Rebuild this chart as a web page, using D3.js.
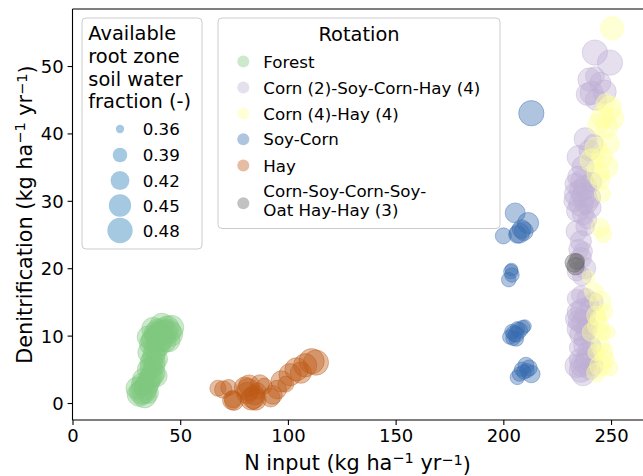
<!DOCTYPE html>
<html>
<head>
<meta charset="utf-8">
<script src="https://cdn.jsdelivr.net/npm/d3@7"></script>
<style>
  html, body { margin: 0; padding: 0; background: #fff; }
  svg { display: block; font-family: "DejaVu Sans", sans-serif; }
</style>
</head>
<body>
<svg id="chart" width="643" height="476"></svg>
<script>
// Rotation categories and their colours (Accent palette)
const rotations = [
  "Forest",
  "Corn (2)-Soy-Corn-Hay (4)",
  "Corn (4)-Hay (4)",
  "Soy-Corn",
  "Hay",
  "Corn-Soy-Corn-Soy-Oat Hay-Hay (3)"
];
const rotationColors = ["#7fc97f", "#beaed4", "#ffff99", "#386cb0", "#bf5b17", "#666666"];

// Each row: [N input, denitrification, available root zone soil water fraction]
const forest = [
  [31, 1.3, 0.47], [33, 1.8, 0.48], [34.5, 2.8, 0.46], [36, 3.8, 0.45], [37.5, 4.5, 0.46],
  [38, 5.5, 0.44], [37, 6.5, 0.44], [38.5, 7.8, 0.45], [36.5, 8.8, 0.46], [38, 9.5, 0.47],
  [40, 10.2, 0.47], [42, 10.8, 0.47], [44, 11.2, 0.46], [45.5, 10.2, 0.47], [43, 9.2, 0.45],
  [40.5, 8.5, 0.44], [39.5, 10.8, 0.45],
  [33.5, 1.0, 0.46], [30, 2.2, 0.45], [35, 1.5, 0.44], [33, 3.5, 0.45], [35, 5, 0.44],
  [39, 4, 0.44], [36.5, 6, 0.45], [39.5, 6.5, 0.43], [35.5, 7.5, 0.45], [39.5, 8.8, 0.46],
  [41.5, 11.6, 0.46], [37.5, 11, 0.46], [46, 11.2, 0.47], [44.5, 9.3, 0.46], [42, 9.5, 0.45],
  [35.2, 9.8, 0.45],
  [32, 1.6, 0.47], [34, 2.2, 0.46], [32.5, 2.8, 0.45], [35.5, 3.2, 0.45], [37, 4.0, 0.45],
  [36.5, 5.2, 0.45], [38.2, 6.2, 0.44], [37.8, 7.2, 0.45], [37.2, 9.2, 0.46], [39, 9.8, 0.46],
  [41, 10.4, 0.47], [43, 10.5, 0.47], [44.8, 10.6, 0.47], [40.8, 9.3, 0.45], [38.6, 10.3, 0.46]
];
const hay = [
  [67.5, 2.2, 0.40], [70, 2.0, 0.41], [72.5, 2.3, 0.40], [74, 0.4, 0.42], [75, 0.3, 0.42],
  [80, 2.3, 0.44], [81.5, 2.0, 0.45], [82, 2.6, 0.44], [83, 0.6, 0.45], [84, 0.8, 0.45],
  [85, 0.5, 0.44], [86, 1.8, 0.40], [87, 2.8, 0.42], [89, 2.5, 0.40], [92, 0.8, 0.42],
  [93, 1.2, 0.42], [95, 2.0, 0.42], [97, 3.2, 0.44], [99, 2.8, 0.40], [101, 4.2, 0.45],
  [104, 5.0, 0.46], [106, 4.5, 0.44], [108, 5.6, 0.46], [111, 6.2, 0.48], [113, 6.0, 0.48],
  [74.5, 0.6, 0.41], [81, 1.5, 0.44], [84.5, 1.2, 0.43]
];
const soyCorn = [
  [213, 43.0, 0.48],
  [205.5, 28.2, 0.43], [211.5, 26.7, 0.44], [200, 24.8, 0.40], [207.5, 25.2, 0.43],
  [208.5, 25.8, 0.42], [209.5, 25.5, 0.42], [206.5, 25.0, 0.41],
  [203.5, 19.5, 0.39], [204, 19.0, 0.39], [202.5, 18.3, 0.39], [203.8, 19.8, 0.38],
  [203, 9.8, 0.39], [205, 10.3, 0.40], [206, 9.5, 0.39], [207.5, 10.8, 0.40],
  [209, 11.2, 0.39], [210, 11.4, 0.38], [204, 10.6, 0.39], [206.5, 11.0, 0.39],
  [204.5, 9.6, 0.39], [206, 10.2, 0.40],
  [206.5, 3.8, 0.39], [207.5, 4.3, 0.39], [208.5, 5.0, 0.39], [210.5, 5.6, 0.40],
  [212, 5.2, 0.40], [213, 4.3, 0.41], [211, 4.8, 0.39], [209.5, 4.6, 0.39]
];
const cornSoyCornHay = [
  [242.5, 52, 0.48], [249.5, 50.5, 0.48],
  [240, 48, 0.46], [241, 46, 0.46], [245, 47.5, 0.44], [247, 46.2, 0.46], [239, 45.8, 0.45],
  [243, 45, 0.44], [242.5, 48.5, 0.42],
  [238, 39.2, 0.45], [235, 36.5, 0.46], [237, 35, 0.45], [240, 37.5, 0.44], [242, 38.5, 0.42],
  [234, 31, 0.47], [236, 29.5, 0.47], [238, 32, 0.46], [240, 30.5, 0.45], [235, 33.5, 0.45],
  [237, 28, 0.44], [239, 27.2, 0.42], [233, 30, 0.44], [241, 32.8, 0.43], [236, 31.5, 0.46],
  [234.5, 28.5, 0.45], [238.5, 29.8, 0.46], [236.5, 33, 0.45], [233.5, 32.5, 0.44],
  [240.5, 29, 0.44], [237.5, 30.8, 0.47],
  [234, 25.5, 0.44], [236, 24, 0.44], [238, 26.2, 0.42], [235, 22.8, 0.43],
  [236, 21.5, 0.44], [238, 20, 0.44], [237, 22.5, 0.42], [234, 19.5, 0.42], [236.5, 18.8, 0.42],
  [234, 15.5, 0.42], [236, 16, 0.42], [238.5, 15.6, 0.42], [240, 14.5, 0.42], [242, 15, 0.42],
  [234, 12.5, 0.45], [235, 11, 0.46], [237, 12, 0.46], [236, 10.2, 0.45], [238, 13, 0.44],
  [239.5, 11.5, 0.42], [234.5, 13.5, 0.44], [236.5, 13.8, 0.45], [238.5, 10.8, 0.44],
  [235.5, 12.2, 0.46], [237.5, 9.6, 0.43],
  [235, 8.2, 0.42], [237, 8.5, 0.42], [239, 7.8, 0.42], [241, 8.4, 0.42],
  [234, 5.5, 0.46], [236, 4.8, 0.46], [238, 5.8, 0.45], [240, 5, 0.44], [235.5, 6.5, 0.44],
  [242, 5.5, 0.42], [237, 4.2, 0.45], [239, 6.6, 0.45], [236.5, 5.6, 0.46]
];
const cornHay = [
  [250.5, 55.6, 0.46],
  [249.5, 43.8, 0.46], [246, 42.5, 0.45], [244, 41.3, 0.44], [248, 41, 0.45], [251, 42.2, 0.44],
  [247.5, 44.5, 0.42],
  [243, 37.8, 0.45], [246, 36.5, 0.44], [248, 35, 0.45], [244, 34, 0.45], [249, 38.5, 0.44],
  [241, 36, 0.46], [245, 33, 0.42], [246, 31, 0.40],
  [245, 26, 0.42], [246.5, 25, 0.40], [239.5, 18.7, 0.38],
  [242, 16.5, 0.42], [245, 15, 0.44], [247, 13.5, 0.40], [244, 12.5, 0.40],
  [244, 11.5, 0.44], [243, 13, 0.42], [246, 10.5, 0.40], [249, 10.5, 0.38], [241, 10.5, 0.42],
  [245, 8.5, 0.42], [243, 7.5, 0.40],
  [245, 5.5, 0.44], [247, 6.5, 0.42], [249.5, 5.2, 0.40], [243, 4.5, 0.42], [246.5, 7.5, 0.42]
];
const cornSoyOatHay = [
  [233, 20.8, 0.42], [233.5, 20.3, 0.41], [234, 21, 0.40]
];

// Series in drawing order, keyed by index into rotations
const seriesOrder = [
  { rot: 0, rows: forest },
  { rot: 4, rows: hay },
  { rot: 3, rows: soyCorn },
  { rot: 1, rows: cornSoyCornHay },
  { rot: 2, rows: cornHay },
  { rot: 5, rows: cornSoyOatHay }
];

const sizeLegendValues = [0.36, 0.39, 0.42, 0.45, 0.48];
const xTicks = [0, 50, 100, 150, 200, 250];
const yTicks = [0, 10, 20, 30, 40, 50];

// ---- layout ----
const plot = { left: 72.5, right: 642.5, top: 9, bottom: 420 };
const x = d3.scaleLinear().domain([0, 264.6]).range([plot.left, plot.right]);
const y = d3.scaleLinear().domain([-2.52, 58.46]).range([plot.bottom, plot.top]);
// marker area grows linearly with the soil water fraction
const area = d3.scaleLinear().domain([0.36, 0.48]).range([69, 640]);
const radius = v => Math.sqrt(Math.max(area(v), 4)) / 2;

const svg = d3.select("#chart");
const alpha = 0.4;

// ---- points ----
const gPts = svg.append("g");
seriesOrder.forEach(s => {
  const col = rotationColors[s.rot];
  gPts.append("g").selectAll("circle")
    .data(s.rows)
    .join("circle")
    .attr("cx", d => x(d[0]))
    .attr("cy", d => y(d[1]))
    .attr("r", d => radius(d[2]))
    .attr("fill", col)
    .attr("fill-opacity", alpha)
    .attr("stroke", col)
    .attr("stroke-opacity", alpha)
    .attr("stroke-width", 1);
});

// ---- axes ----
const tickFont = 18;
const xAxis = d3.axisBottom(x).tickValues(xTicks).tickSize(4.9).tickPadding(4).tickFormat(d3.format("d"));
const yAxis = d3.axisLeft(y).tickValues(yTicks).tickSize(4.9).tickPadding(4).tickFormat(d3.format("d"));

const gx = svg.append("g").attr("transform", `translate(0,${plot.bottom})`).call(xAxis);
const gy = svg.append("g").attr("transform", `translate(${plot.left},0)`).call(yAxis);
[gx, gy].forEach(g => {
  g.select(".domain").remove();
  g.selectAll(".tick line").attr("stroke", "#000").attr("stroke-width", 1.1);
  g.selectAll(".tick text").attr("fill", "#000").attr("font-size", tickFont)
    .attr("font-family", "DejaVu Sans, sans-serif");
});
gx.selectAll(".tick text").attr("dy", "0.74em");
gy.selectAll(".tick text").attr("dy", "0.36em");

// spines: left, bottom, top
svg.append("line").attr("x1", plot.left).attr("x2", plot.left).attr("y1", plot.top).attr("y2", plot.bottom)
  .attr("stroke", "#000").attr("stroke-width", 1.1);
svg.append("line").attr("x1", plot.left).attr("x2", plot.right + 1).attr("y1", plot.bottom).attr("y2", plot.bottom)
  .attr("stroke", "#000").attr("stroke-width", 1.1);
svg.append("line").attr("x1", plot.left).attr("x2", plot.right + 1).attr("y1", plot.top).attr("y2", plot.top)
  .attr("stroke", "#000").attr("stroke-width", 1.1);

// axis titles with superscript units
function unitLabel(sel, prefix) {
  sel.append("tspan").text(prefix + "(kg ha");
  sel.append("tspan").attr("font-size", "70%").attr("dy", "-0.45em").text("\u22121");
  sel.append("tspan").attr("dy", "0.315em").text(" yr");
  sel.append("tspan").attr("font-size", "70%").attr("dy", "-0.315em").text("\u22121");
  sel.append("tspan").attr("dy", "0.315em").text(")");
}
const labelFont = 20.8;
const xl = svg.append("text")
  .attr("x", (plot.left + plot.right) / 2).attr("y", 470)
  .attr("text-anchor", "middle").attr("font-size", labelFont).attr("fill", "#000");
unitLabel(xl, "N input ");
const yl = svg.append("text")
  .attr("transform", `translate(32,${(plot.top + plot.bottom) / 2}) rotate(-90)`)
  .attr("text-anchor", "middle").attr("font-size", labelFont).attr("fill", "#000");
unitLabel(yl, "Denitrification ");

// ---- legends ----
const legFont = 16.7, titleFont = 19.4;
function frame(x0, y0, x1, y1) {
  svg.append("rect").attr("x", x0).attr("y", y0).attr("width", x1 - x0).attr("height", y1 - y0)
    .attr("rx", 4).attr("fill", "#fff").attr("fill-opacity", 0.8)
    .attr("stroke", "#cccccc").attr("stroke-width", 1);
}

// size legend
frame(82, 18, 202, 249);
const sizeTitle = ["Available", "root zone", "soil water", "fraction (-)"];
svg.append("g").selectAll("text").data(sizeTitle).join("text")
  .attr("x", 88.3).attr("y", (d, i) => 40 + i * 22.8)
  .attr("font-size", titleFont).attr("fill", "#000").text(d => d);
const sizeY = [129, 155, 180.5, 205.5, 230.5];
const gs = svg.append("g");
gs.selectAll("circle").data(sizeLegendValues).join("circle")
  .attr("cx", 120).attr("cy", (d, i) => sizeY[i]).attr("r", d => radius(d))
  .attr("fill", "#1f77b4").attr("fill-opacity", alpha);
gs.selectAll("text").data(sizeLegendValues).join("text")
  .attr("x", 142.7).attr("y", (d, i) => sizeY[i] + 6)
  .attr("font-size", legFont).attr("fill", "#000").text(d => d3.format(".2f")(d));

// rotation legend
frame(218, 18, 500, 228.5);
svg.append("text").attr("x", 359).attr("y", 40.7).attr("text-anchor", "middle")
  .attr("font-size", titleFont).attr("fill", "#000").text("Rotation");
const rotLines = [
  ["Forest"], ["Corn (2)-Soy-Corn-Hay (4)"], ["Corn (4)-Hay (4)"], ["Soy-Corn"], ["Hay"],
  ["Corn-Soy-Corn-Soy-", "Oat Hay-Hay (3)"]
];
const rotMarkY = [61.5, 87.5, 113.5, 139.3, 165.5, 203.3];
const gr = svg.append("g");
rotations.forEach((name, i) => {
  gr.append("circle").attr("cx", 243.3).attr("cy", rotMarkY[i]).attr("r", 6)
    .attr("fill", rotationColors[i]).attr("fill-opacity", alpha);
  const lines = rotLines[i];
  const t = gr.append("text").attr("font-size", legFont).attr("fill", "#000");
  lines.forEach((ln, j) => {
    const base = lines.length === 1 ? rotMarkY[i] + 6 : rotMarkY[i] - 6.6 + j * 19.4;
    t.append("tspan").attr("x", 263.3).attr("y", base).text(ln);
  });
});
</script>
</body>
</html>
